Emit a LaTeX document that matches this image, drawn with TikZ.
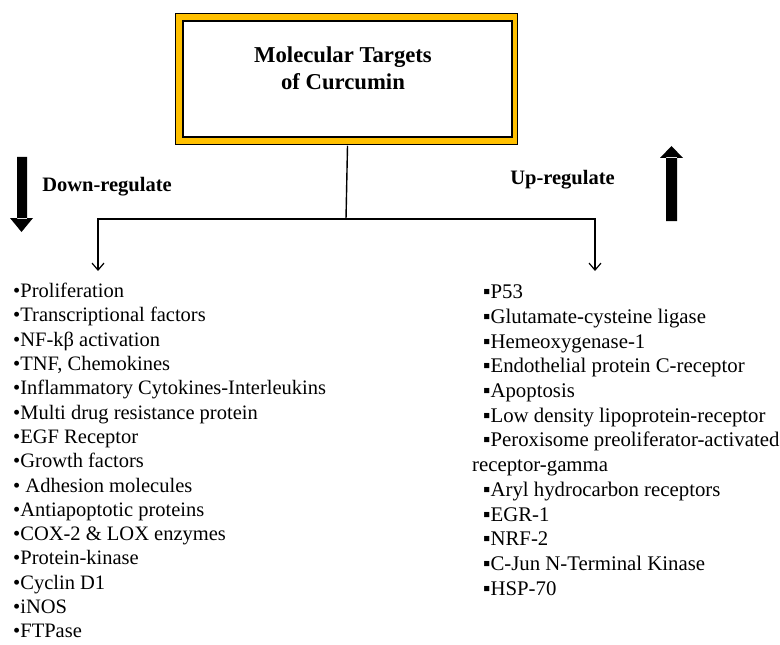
\documentclass[tikz,border=0pt]{standalone}
\usepackage{fontspec}
\setmainfont{Liberation Serif}
\usetikzlibrary{arrows.meta}
\definecolor{gold}{RGB}{255,192,0}
\tikzset{
	link/.style={line width=1.4bp, -{Straight Barb[length=7bp,width=12bp,line width=1.2bp]}},
	targets/.style={anchor=north west, align=left, inner sep=0pt},
	tag/.style={font=\bfseries\fontsize{20.5bp}{24bp}\selectfont, inner sep=0pt}
}
\begin{document}
\begin{tikzpicture}[x=1bp,y=-1bp]
		\path[use as bounding box] (0,0) rectangle (780,645);
		\draw[line width=1.5bp, fill=gold] (175.5,13.5) rectangle (517.5,144.5);
		\node[draw, line width=1.5bp, fill=white, minimum width=329bp, minimum height=116bp, inner sep=0pt] (title) at (347.5,79) {};
		\node[tag, align=center, font=\bfseries\fontsize{22.7bp}{27bp}\selectfont] (name) at (343,68.5) {Molecular Targets\\of Curcumin};
		
		\node[tag] (down) at (107,187) {Down-regulate};
		\node[tag] (up) at (562.5,180) {Up-regulate};
		\fill (17,157) rectangle (27,219) (10,218) -- (33,218) -- (21.5,232) -- cycle;
		\fill (666,221) rectangle (677,157) (660,158) -- (683,158) -- (671.5,146) -- cycle;
		
		\coordinate (fork) at (346,219);
		\coordinate (lefttip) at (98,271);
		\coordinate (righttip) at (595,271);
		\draw[line width=1.4bp] ([yshift=-8bp]title.south) -- (fork);
		\draw[link] (fork) -| (lefttip);
		\draw[link] (fork) -| (righttip);
		
		\node[targets, font=\fontsize{20.5bp}{24.3bp}\selectfont] (inhibited) at (13,283) {%
			•Proliferation\\
			•Transcriptional factors\\
			•NF-kβ activation\\
			•TNF, Chemokines\\
			•Inflammatory Cytokines-Interleukins\\
			•Multi drug resistance protein\\
			•EGF Receptor\\
			•Growth factors\\
			• Adhesion molecules\\
			•Antiapoptotic proteins\\
			•COX-2 \& LOX enzymes\\
			•Protein-kinase\\
			•Cyclin D1\\
			•iNOS\\
			•FTPase};
		\node[targets, font=\fontsize{20.8bp}{24.67bp}\selectfont] (induced) at (483,285) {%
			▪P53\\
			▪Glutamate-cysteine ligase\\
			▪Hemeoxygenase-1\\
			▪Endothelial protein C-receptor\\
			▪Apoptosis\\
			▪Low density lipoprotein-receptor\\
			▪Peroxisome preoliferator-activated\\
			\hspace*{-11bp}receptor-gamma\\
			▪Aryl hydrocarbon receptors\\
			▪EGR-1\\
			▪NRF-2\\
			▪C-Jun N-Terminal Kinase\\
			▪HSP-70};
\end{tikzpicture}
\end{document}
